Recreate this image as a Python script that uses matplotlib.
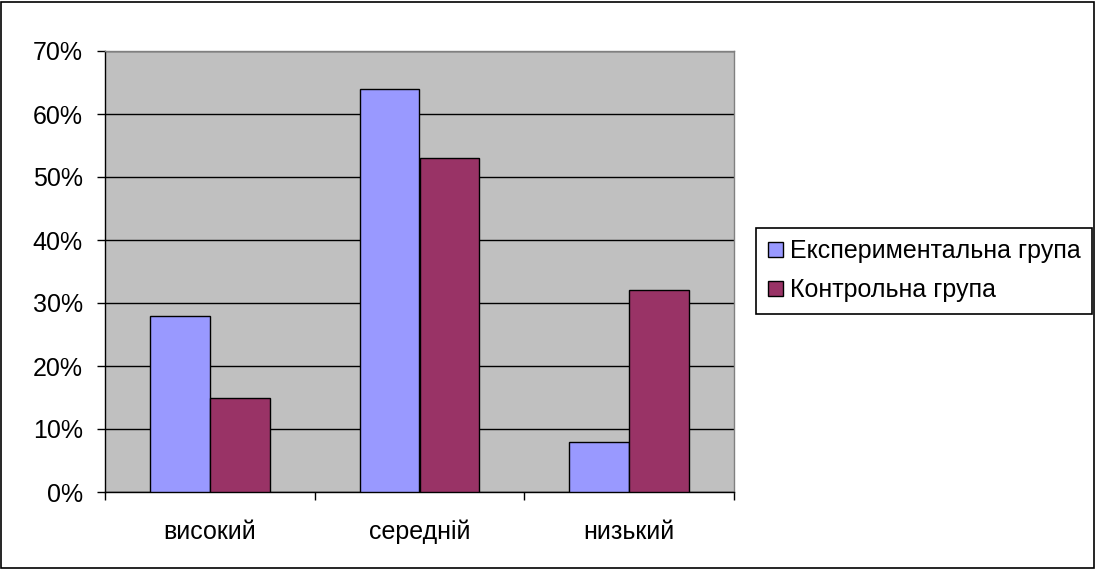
import matplotlib
matplotlib.use("Agg")
import matplotlib.pyplot as plt
from matplotlib.patches import Rectangle
import numpy as np

plt.rcParams['font.family'] = ['Liberation Sans', 'DejaVu Sans']

categories = ["високий", "середній", "низький"]
series_names = ["Експериментальна група", "Контрольна група"]
exp_values = [28, 64, 8]
ctrl_values = [15, 53, 32]
y_ticks = [0, 10, 20, 30, 40, 50, 60, 70]
y_tick_labels = ["0%", "10%", "20%", "30%", "40%", "50%", "60%", "70%"]

W, H = 1096, 569
FS = 18
fig = plt.figure(figsize=(W/100, H/100), dpi=100)
fig.patches.append(Rectangle((1/W, 1/H), 1-3/W, 1-3/H, transform=fig.transFigure,
                             fill=False, edgecolor='black', linewidth=1.2))

ax = fig.add_axes([105/W, (H-492)/H, 629/W, 441/H])
ax.set_facecolor('#C0C0C0')

x = np.arange(len(categories))
bw = 1/3.5
ax.bar(x - bw/2, exp_values, width=bw, color='#9999FF', edgecolor='black', linewidth=1, zorder=3,
       label=series_names[0])
ax.bar(x + bw/2, ctrl_values, width=bw, color='#993366', edgecolor='black', linewidth=1, zorder=3,
       label=series_names[1])

ax.set_xlim(-0.5, 2.5)
ax.set_ylim(0, 70)
ax.set_yticks(y_ticks)
ax.set_yticklabels(y_tick_labels, fontsize=FS)
ax.yaxis.grid(True, color='black', linewidth=1, zorder=1)
ax.set_axisbelow(True)

ax.set_xticks([-0.5, 0.5, 1.5, 2.5])
ax.set_xticklabels([])
ax.set_xticks(x, minor=True)
ax.set_xticklabels(categories, minor=True, fontsize=FS)
ax.tick_params(axis='x', which='minor', length=0, pad=20)
ax.tick_params(axis='x', which='major', length=6, width=1, direction='out')
ax.tick_params(axis='y', length=6, width=1, direction='out', pad=10)

ax.spines['top'].set_color('#808080')
ax.spines['right'].set_color('#808080')
ax.spines['left'].set_color('black')
ax.spines['bottom'].set_color('black')
for s in ax.spines.values():
    s.set_linewidth(1)

leg = fig.legend(loc='upper right', bbox_to_anchor=(1092/W, 1-228/H), fontsize=FS,
                 frameon=True, fancybox=False, edgecolor='black', framealpha=1,
                 handlelength=0.6, handleheight=0.6, handletextpad=0.3,
                 borderpad=0.45, labelspacing=0.6, borderaxespad=0)
leg.get_frame().set_linewidth(1.2)

fig.savefig('out.png', dpi=100)
